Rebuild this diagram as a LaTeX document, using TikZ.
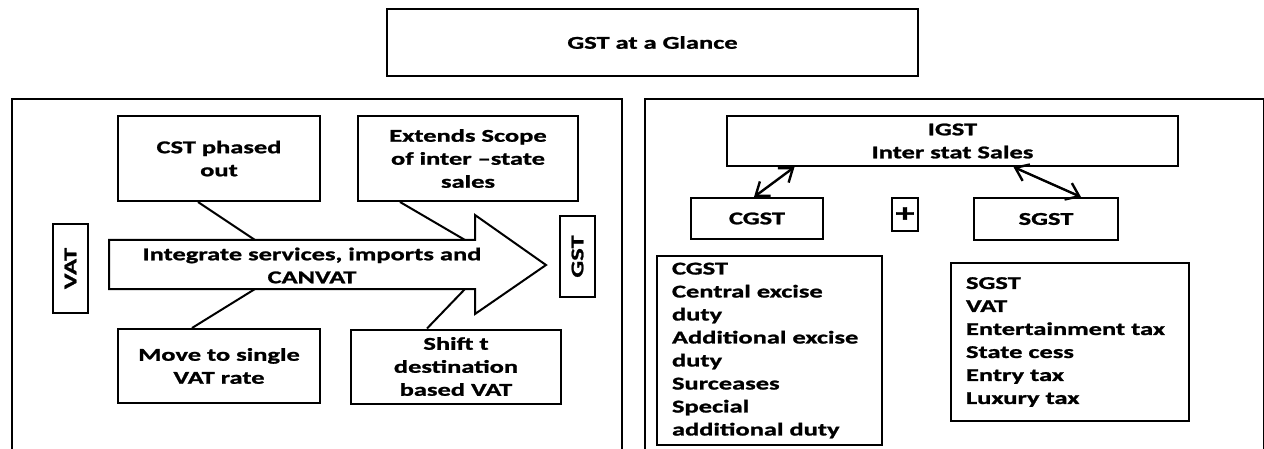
\documentclass[tikz,border=0pt]{standalone}
\usepackage{fontspec}
\setmainfont{Carlito}[FakeStretch=1.47, BoldFeatures={FakeBold=1.3}]
\usetikzlibrary{arrows.meta, positioning, calc}
\tikzset{
  tbox/.style={draw, line width=2pt, align=center, inner sep=2pt,
    font=\fontsize{18}{23}\selectfont\bfseries},
  vbox/.style={tbox, rotate=90, minimum height=35pt},
  lbox/.style={draw, line width=2pt, align=left, inner xsep=15pt,
    font=\fontsize{18}{23}\selectfont\bfseries},
  panel/.style={line width=2.5pt},
  link/.style={line width=2pt},
  dlink/.style={{Straight Barb[length=12pt, width=18pt]}-{Straight Barb[length=12pt, width=18pt]}, line width=2.4pt},
}
\begin{document}
\begin{tikzpicture}[x=1pt, y=-1pt]
    \useasboundingbox (0,0) rectangle (1264,449);
    \begin{scope}
      \clip (0,0) rectangle (1264,449);
      \draw[panel] (12,99) rectangle (622,470);
      \draw[panel] (645,99) rectangle (1264,470);
    \end{scope}
    \node[tbox, minimum width=531pt, minimum height=67pt] (title) at (652.5,42.5) {GST at a Glance};
    % left panel
    \node[tbox, minimum width=202pt, minimum height=85pt] (cst) at (219,158.5) {CST phased\\out};
    \node[tbox, minimum width=220pt, minimum height=85pt] (scope) at (468,158.5) {Extends Scope\\of inter --state\\sales};
    \node[tbox, minimum width=202pt, minimum height=74pt] (single) at (219,366) {Move to single\\VAT rate};
    \node[tbox, minimum width=210pt, minimum height=74pt] (dest) at (456,366.5) {Shift t\\destination\\based VAT};
    \node[vbox, minimum width=89pt] (vat) at (70.5,268.5) {VAT};
    \node[vbox, minimum width=81pt] (gst) at (577.5,256.5) {GST};
    \draw[link] (109,240) -- (475,240) -- (475,215) -- (546,265)
      -- (475,314) -- (475,289) -- (109,289) -- cycle;
    \node[font=\fontsize{18}{23}\selectfont\bfseries, align=center] (flow) at (312,265.5) {Integrate services, imports and\\CANVAT};
    \coordinate (f1) at (255,240);
    \coordinate (f2) at (465,240);
    \coordinate (f3) at (255,289);
    \coordinate (f4) at (465,289);
    \draw[link] ([xshift=-21pt]cst.south) -- (f1);
    \draw[link] ([xshift=-68pt]scope.south) -- (f2);
    \draw[link] ([xshift=-27pt]single.north) -- (f3);
    \draw[link] ([xshift=-29pt]dest.north) -- (f4);
    % right panel
    \node[tbox, minimum width=451pt, minimum height=50pt] (igst) at (952.5,141) {IGST\\Inter stat Sales};
    \node[tbox, minimum width=132pt, minimum height=41pt] (cgst) at (757,218.5) {CGST};
    \node[tbox, minimum width=26pt, minimum height=33pt, inner sep=0pt,
      font=\fontsize{26}{26}\selectfont\bfseries] (plus) at (905,214.5) {+};
    \node[tbox, minimum width=144pt, minimum height=42pt] (sgst) at (1046,219) {SGST};
    \draw[dlink] ([xshift=-158pt]igst.south) -- ([xshift=-3pt]cgst.north);
    \draw[dlink] ([xshift=61pt]igst.south) -- ([xshift=35pt]sgst.north);
    \node[lbox, text width=195pt, minimum height=189pt] (clist) at (769.5,350.5)
      {CGST\\Central excise\\duty\\Additional excise\\duty\\Surceases\\Special\\additional duty};
    \node[lbox, text width=208pt, inner xsep=15pt, minimum height=158pt] (slist) at (1070,342)
      {SGST\\VAT\\Entertainment tax\\State cess\\Entry tax\\Luxury tax};
  \end{tikzpicture}
\end{document}
